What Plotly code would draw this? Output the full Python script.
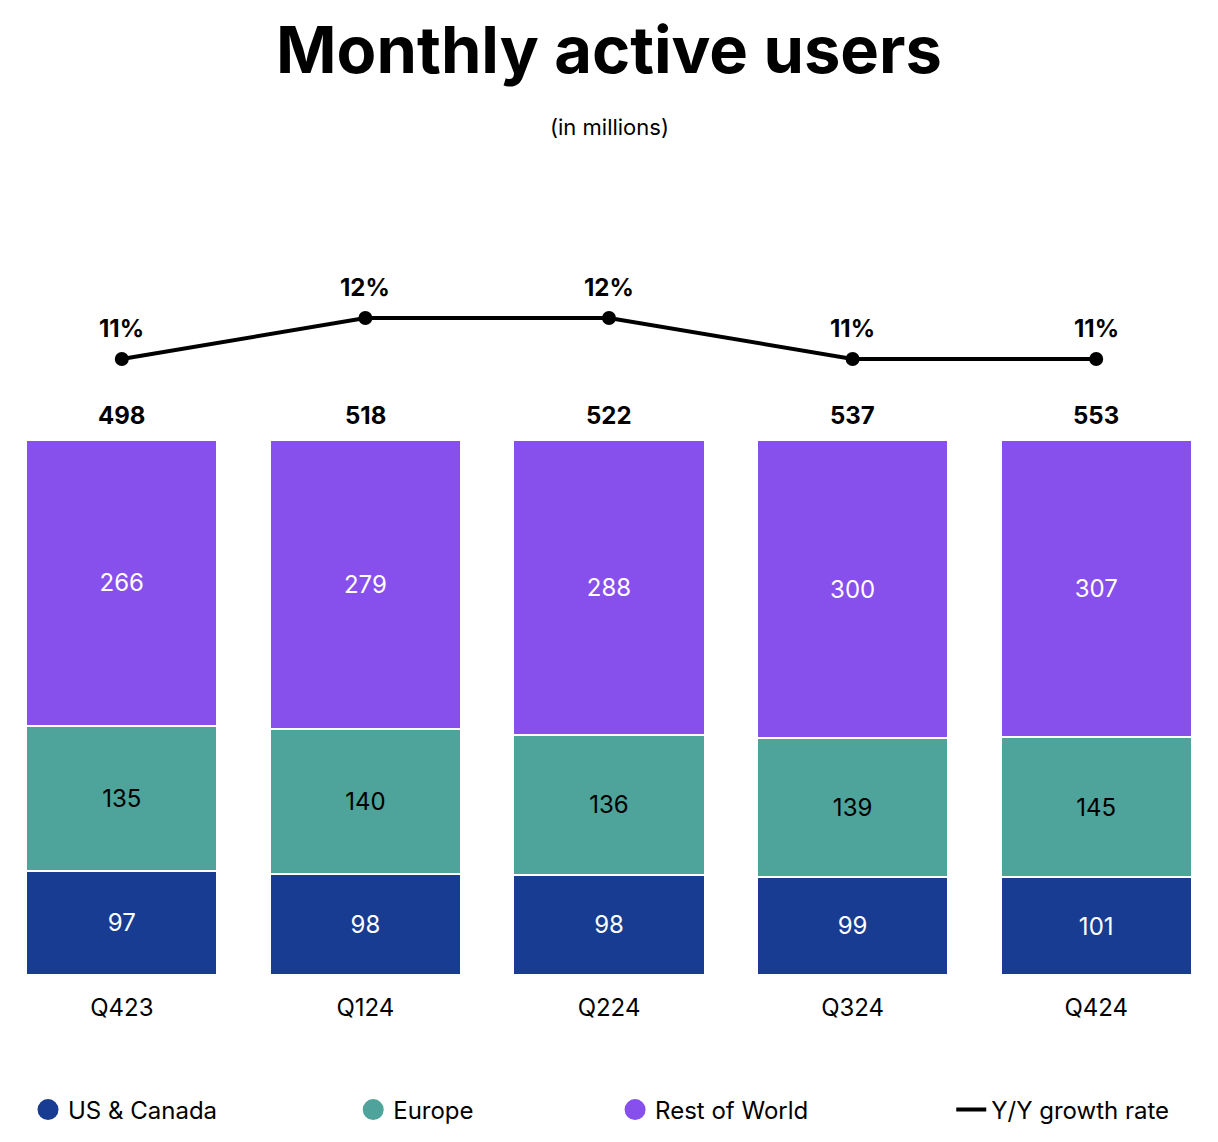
import plotly.graph_objects as go

quarters = ["Q423", "Q124", "Q224", "Q324", "Q424"]
us_canada = [97, 98, 98, 99, 101]
europe = [135, 140, 136, 139, 145]
rest_of_world = [266, 279, 288, 300, 307]
totals = [498, 518, 522, 537, 553]
growth = [11, 12, 12, 11, 11]
growth_labels = ["11%", "12%", "12%", "11%", "11%"]

C_US = "#173C91"
C_EU = "#4EA39B"
C_ROW = "#874FEC"
FONT = "Inter"
H = 1142

def py(px):
    return 1 - px / H

fig = go.Figure()

for name, vals, col, tcol in [
    ("US & Canada", us_canada, C_US, "white"),
    ("Europe", europe, C_EU, "black"),
    ("Rest of World", rest_of_world, C_ROW, "white"),
]:
    fig.add_trace(go.Bar(
        x=quarters, y=vals, name=name, showlegend=False,
        marker=dict(color=col, line=dict(color="white", width=2)),
        text=[str(v) for v in vals], texttemplate="%{text}",
        textposition="inside", insidetextanchor="middle", textangle=0,
        textfont=dict(color=tcol, size=24, family=FONT),
        xaxis="x", yaxis="y",
    ))

fig.add_trace(go.Scatter(
    x=quarters, y=growth, mode="lines+markers", showlegend=False,
    line=dict(color="black", width=4), marker=dict(color="black", size=14),
    xaxis="x", yaxis="y2", cliponaxis=False,
))

# legend entries
leg_specs = [
    ("US & Canada", C_US, "legend", 0.023),
    ("Europe", C_EU, "legend2", 0.290),
    ("Rest of World", C_ROW, "legend3", 0.505),
]
for name, col, leg, _ in leg_specs:
    fig.add_trace(go.Scatter(
        x=[None], y=[None], mode="markers", name=name, legend=leg,
        marker=dict(color=col, size=16, symbol="circle", line=dict(color=col, width=5)),
        showlegend=True,
    ))
fig.add_trace(go.Scatter(
    x=[None], y=[None], mode="lines", name="Y/Y growth rate", legend="legend4",
    line=dict(color="black", width=4), showlegend=True,
))

leg_common = dict(orientation="h", yanchor="middle", y=py(1110), xanchor="left",
                  font=dict(size=24, family=FONT, color="black"),
                  bgcolor="rgba(0,0,0,0)", itemwidth=30)
fig.update_layout(
    legend=dict(x=leg_specs[0][3], **leg_common),
    legend2=dict(x=leg_specs[1][3], **leg_common),
    legend3=dict(x=leg_specs[2][3], **leg_common),
    legend4=dict(x=0.781, **leg_common),
)

annotations = []
for q, t in zip(quarters, totals):
    annotations.append(dict(x=q, y=100, xref="x", yref="y", text=f"<b>{t}</b>",
                            showarrow=False, yshift=24, yanchor="middle",
                            font=dict(size=24, family=FONT, color="black")))
for q, g, gl in zip(quarters, growth, growth_labels):
    annotations.append(dict(x=q, y=g, xref="x", yref="y2", text=f"<b>{gl}</b>",
                            showarrow=False, yshift=31, yanchor="middle",
                            font=dict(size=24, family=FONT, color="black")))
annotations.append(dict(x=0.5, y=py(127), xref="paper", yref="paper",
                        text="(in millions)", showarrow=False, yanchor="middle",
                        font=dict(size=22, family=FONT, color="black")))

fig.update_layout(
    width=1218, height=H,
    margin=dict(l=0, r=0, t=0, b=0),
    paper_bgcolor="white", plot_bgcolor="white",
    barmode="stack", barnorm="percent", bargap=0.215,
    title=dict(text="<b>Monthly active users</b>", x=0.5, xanchor="center",
               y=py(50), yanchor="middle",
               font=dict(size=65, family=FONT, color="black", weight=900)),
    xaxis=dict(range=[-0.5, 4.5], showgrid=False, zeroline=False, showline=False,
               ticks="", tickfont=dict(size=24, family=FONT, color="black"),
               ticklabelstandoff=16, anchor="y"),
    yaxis=dict(domain=[py(975), py(440)], range=[0, 100], visible=False),
    yaxis2=dict(domain=[py(380), py(300)], range=[11 - 21 / 41, 11 + 59 / 41],
                visible=False, anchor="x"),
    annotations=annotations,
    font=dict(family=FONT),
)

fig.write_html("out.html", config={"displayModeBar": False},
               post_script="document.body.style.margin='0';")
